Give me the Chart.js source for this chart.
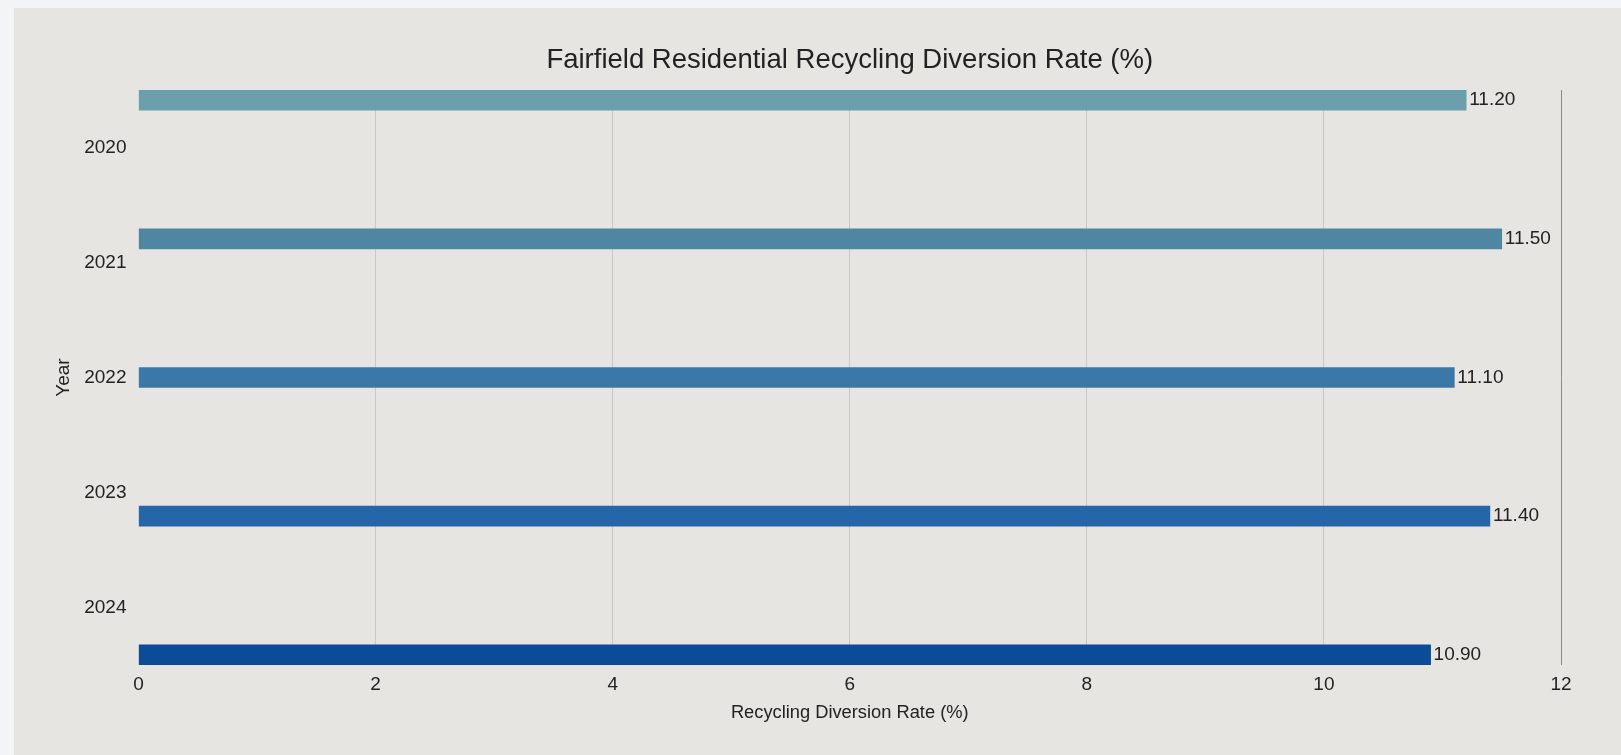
<!DOCTYPE html>
<html>
<head>
<meta charset="utf-8">
<script src="https://cdn.jsdelivr.net/npm/chart.js@4"></script>
<style>
  html, body { margin: 0; padding: 0; background: #f3f4f5; }
  #wrap { position: absolute; left: 14px; top: 8px; width: 1607px; height: 747px; background: #e6e5e2; }
  canvas { display: block; }
</style>
</head>
<body>
<div id="wrap"><canvas id="chart" width="1607" height="747"></canvas></div>
<script>
const years = [2020, 2021, 2022, 2023, 2024];
const diversionRate = [11.2, 11.5, 11.1, 11.4, 10.9];
const barColors = ['#6a9fab', '#4f87a3', '#3b78a8', '#2566aa', '#0b4c98'];
const xTicks = [0, 2, 4, 6, 8, 10, 12];

const FONT = "'Liberation Sans', Arial, Helvetica, sans-serif";

// value labels at the end of each bar
const valueLabels = {
    id: 'valueLabels',
    afterDatasetsDraw(chart) {
        const ctx = chart.ctx;
        const meta = chart.getDatasetMeta(0);
        ctx.save();
        ctx.font = '19px ' + FONT;
        ctx.fillStyle = '#222';
        ctx.textAlign = 'left';
        ctx.textBaseline = 'middle';
        meta.data.forEach(function(bar, i) {
            ctx.fillText(diversionRate[i].toFixed(2), bar.x + 3, bar.y);
        });
        ctx.restore();
    }
};

const ctx = document.getElementById('chart').getContext('2d');
new Chart(ctx, {
    type: 'bar',
    data: {
        labels: years,
        datasets: [{
            data: diversionRate,
            backgroundColor: barColors,
            borderWidth: 0,
            barThickness: 20,
            xAxisID: 'x',
            yAxisID: 'yb'
        }]
    },
    options: {
        indexAxis: 'y',
        responsive: false,
        animation: false,
        layout: { padding: { left: 0, right: 60, top: 0, bottom: 0 } },
        plugins: {
            legend: { display: false },
            tooltip: { enabled: false },
            title: {
                display: true,
                fullSize: false,
                text: 'Fairfield Residential Recycling Diversion Rate (%)',
                color: '#222',
                font: { family: FONT, size: 27.5, weight: 'normal' },
                padding: { top: 35.5, bottom: 13.5 }
            }
        },
        scales: {
            x: {
                type: 'linear',
                min: 0,
                max: 12,
                afterBuildTicks: function(scale) {
                    scale.ticks = xTicks.map(v => ({ value: v }));
                },
                afterFit: function(scale) { scale.height = 90; },
                border: { display: false },
                grid: {
                    drawTicks: false,
                    color: function(c) {
                        if (c.tick.value === 0) return 'rgba(0,0,0,0)';
                        if (c.tick.value === 12) return '#8a8a8a';
                        return '#c8c8c8';
                    }
                },
                ticks: {
                    padding: 8,
                    color: '#222',
                    font: { family: FONT, size: 19 }
                },
                title: {
                    display: true,
                    text: 'Recycling Diversion Rate (%)',
                    color: '#222',
                    font: { family: FONT, size: 18.3 },
                    padding: { top: 0, bottom: 31 }
                }
            },
            y: {
                type: 'category',
                position: 'left',
                offset: true,
                afterFit: function(scale) { scale.width = 124.5; },
                border: { display: false },
                grid: { display: false, drawTicks: false },
                ticks: {
                    padding: 12,
                    color: '#222',
                    font: { family: FONT, size: 19 }
                },
                title: {
                    display: true,
                    text: 'Year',
                    color: '#222',
                    font: { family: FONT, size: 19 },
                    padding: { top: 38.6, bottom: 0 }
                }
            },
            yb: {
                type: 'linear',
                display: false,
                offset: false,
                reverse: true,
                min: 2019.926,
                max: 2024.074
            }
        }
    },
    plugins: [valueLabels]
});
</script>
</body>
</html>
